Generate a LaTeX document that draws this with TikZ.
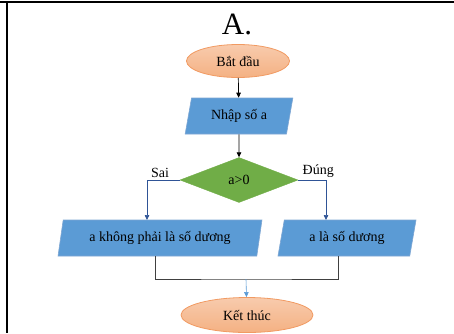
\documentclass[tikz,border=0pt]{standalone}
\usepackage{fontspec}
\setmainfont{Liberation Serif}
\usepackage{tikz}
\usetikzlibrary{shapes.geometric,arrows.meta}

\definecolor{boxblue}{HTML}{5B9BD5}
\definecolor{boxline}{HTML}{7EA6D3}
\definecolor{decgreen}{HTML}{70AD47}
\definecolor{endfill}{HTML}{F4B183}
\definecolor{endtop}{HTML}{F8CBAD}
\definecolor{endline}{HTML}{F19A62}
\definecolor{linkblue}{HTML}{2F5496}
\definecolor{joingray}{HTML}{404040}

\begin{document}
\begin{tikzpicture}[x=1pt,y=-1pt,
    every node/.style={font=\fontsize{14}{16}\selectfont, inner sep=0pt},
    terminal/.style={ellipse, draw=endline, line width=0.8pt,
        top color=endtop, bottom color=endfill,
        minimum width=103, minimum height=33},
    iobox/.style={trapezium, trapezium left angle=74, trapezium right angle=106,
        trapezium stretches=true, draw=boxline, line width=0.6pt, fill=boxblue,
        minimum height=36},
    decision/.style={diamond, aspect=2.6, fill=decgreen, draw=decgreen,
        minimum width=118, minimum height=45},
    flow/.style={-{Triangle[length=5pt,width=4.5pt]}, line width=0.7pt}
  ]
  \useasboundingbox (0,0) rectangle (454,333);
  % frame
  \draw[line width=2.4pt] (0,2) -- (454,2);
  \draw[line width=2.4pt] (7,2) -- (7,333);

  \node (title) at (237,24) {\fontsize{31}{33}\selectfont A.};

  \node[terminal] (start) at (238,61) {Bắt đầu};
  \node[iobox, minimum width=108] (input) at (239,116) {Nhập số a};
  \node[decision] (test) at (239,180) {a>0};
  \node[iobox, minimum width=204] (notpos) at (160,238) {a không phải là số dương};
  \node[iobox, minimum width=139] (ispos) at (347,238) {a là số dương};
  \node[terminal, minimum width=132, minimum height=35] (stop) at (247,315) {Kết thúc};

  \coordinate (join) at (246,279);

  \draw[flow] (start) -- (input);
  \draw[flow] (input) -- (test);
  \draw[flow, linkblue] (test.west) -| (147,220)
      node[pos=0.3, above=2pt, text=black] {Sai};
  \draw[flow, linkblue] (test.east) -| (326,220)
      node[pos=0.36, above=2pt, text=black] {Đúng};
  \draw[joingray, line width=0.8pt] (155,256) |- (join) -| (338,256);
  \draw[flow, boxblue, line width=0.6pt] (join) -- (stop);
\end{tikzpicture}
\end{document}
